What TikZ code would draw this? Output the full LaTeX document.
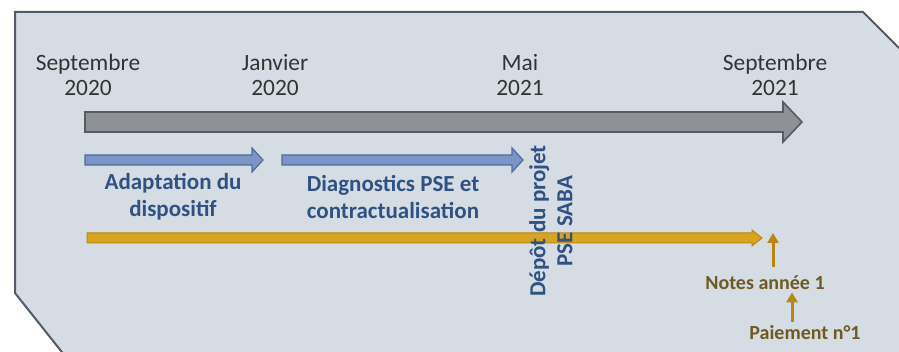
\documentclass[tikz,border=0pt]{standalone}
\usepackage{fontspec}
\setmainfont{Carlito}
\usetikzlibrary{arrows.meta, positioning}
\definecolor{panelfill}{HTML}{D6DCE4}
\definecolor{paneldraw}{HTML}{555B66}
\definecolor{greyfill}{HTML}{8E9196}
\definecolor{greydraw}{HTML}{585B60}
\definecolor{bluefill}{HTML}{7B96C6}
\definecolor{bluedraw}{HTML}{4D6C9E}
\definecolor{bluetext}{HTML}{2F5282}
\definecolor{goldfill}{HTML}{D8A51E}
\definecolor{golddraw}{HTML}{B8870F}
\definecolor{goldtext}{HTML}{6E5B22}
\definecolor{datetext}{HTML}{333333}
\tikzset{
  panel/.style={
    fill=panelfill,
    draw=paneldraw,
    line width = 1pt,
  },
  datelabel/.style={
    align = center,
    text=datetext,
    inner sep=0pt,
    font=\fontsize{11.7}{12.5}\selectfont,
  },
  phaselabel/.style={
    align = center,
    text=bluetext,
    inner sep=0pt,
    font=\fontsize{11.5}{13.5}\selectfont\bfseries,
  },
  goldlabel/.style={
    text=goldtext,
    inner sep=0pt,
    font=\fontsize{10}{12}\selectfont\bfseries,
  },
  greyarrow/.style={
    fill=greyfill,
    draw=greydraw,
    line width = 0.8pt,
  },
  bluearrow/.style={
    fill=bluefill,
    draw=bluedraw,
    line width = 0.6pt,
  },
  goldarrow/.style={
    fill=goldfill,
    draw=golddraw,
    line width = 0.5pt,
  },
  uparrow/.style={
    line width = 1.5pt,
    draw=golddraw,
    -{Triangle[length=5pt, width=5.5pt]},
  },
}
\begin{document}
\begin{tikzpicture}[x=0.5pt, y=-0.5pt]
    \useasboundingbox[fill=white] (0,0) rectangle (899,352);
    % panel
    \begin{scope}
      \clip (0,0) rectangle (899,352);
      \draw [panel] (15,12) -- (863,12) -- (960,109) -- (960,400) -- (100,400) -- (15,293) -- cycle;
    \end{scope}
    % time line
    \draw [greyarrow] (85,112) -- (783,112) -- (783,102) -- (802,122) -- (783,142) -- (783,132) -- (85,132) -- cycle;
    \node (sep20) [datelabel] at (88,75) {Septembre\\2020};
    \node (jan) [datelabel] at (275,75) {Janvier\\2020};
    \node (mai) [datelabel] at (520,75) {Mai\\2021};
    \node (sep21) [datelabel] at (775,75) {Septembre\\2021};
    % phases
    \draw [bluearrow] (85,155) -- (252,155) -- (252,148) -- (263,160) -- (252,172) -- (252,165) -- (85,165) -- cycle;
    \draw [bluearrow] (282,155) -- (512,155) -- (512,148) -- (523,160) -- (512,172) -- (512,165) -- (282,165) -- cycle;
    \node (adapt) [phaselabel] at (173,197) {Adaptation du\\dispositif};
    \node (diag) [phaselabel] at (393,197) {Diagnostics PSE et\\contractualisation};
    % year 1
    \draw [goldarrow] (87,233) -- (752,233) -- (752,230) -- (762,238) -- (752,246) -- (752,243) -- (87,243) -- cycle;
    \node (depot) [phaselabel, rotate=90] at (551,221) {Dépôt du projet\\PSE SABA};
    \coordinate (goldtip) at (773,233);
    \node (notes) [goldlabel] at (765,283) {Notes année 1};
    \node (paie) [goldlabel] at (805,333) {Paiement n°1};
    \draw [uparrow, shorten <=4.5pt] (notes.north -| goldtip) -- (goldtip);
    \draw [uparrow, shorten <=2pt, shorten >=1pt] ([xshift=-6.5pt]paie.north) -- ([xshift=-6.5pt]paie.north |- notes.south);
\end{tikzpicture}
\end{document}
